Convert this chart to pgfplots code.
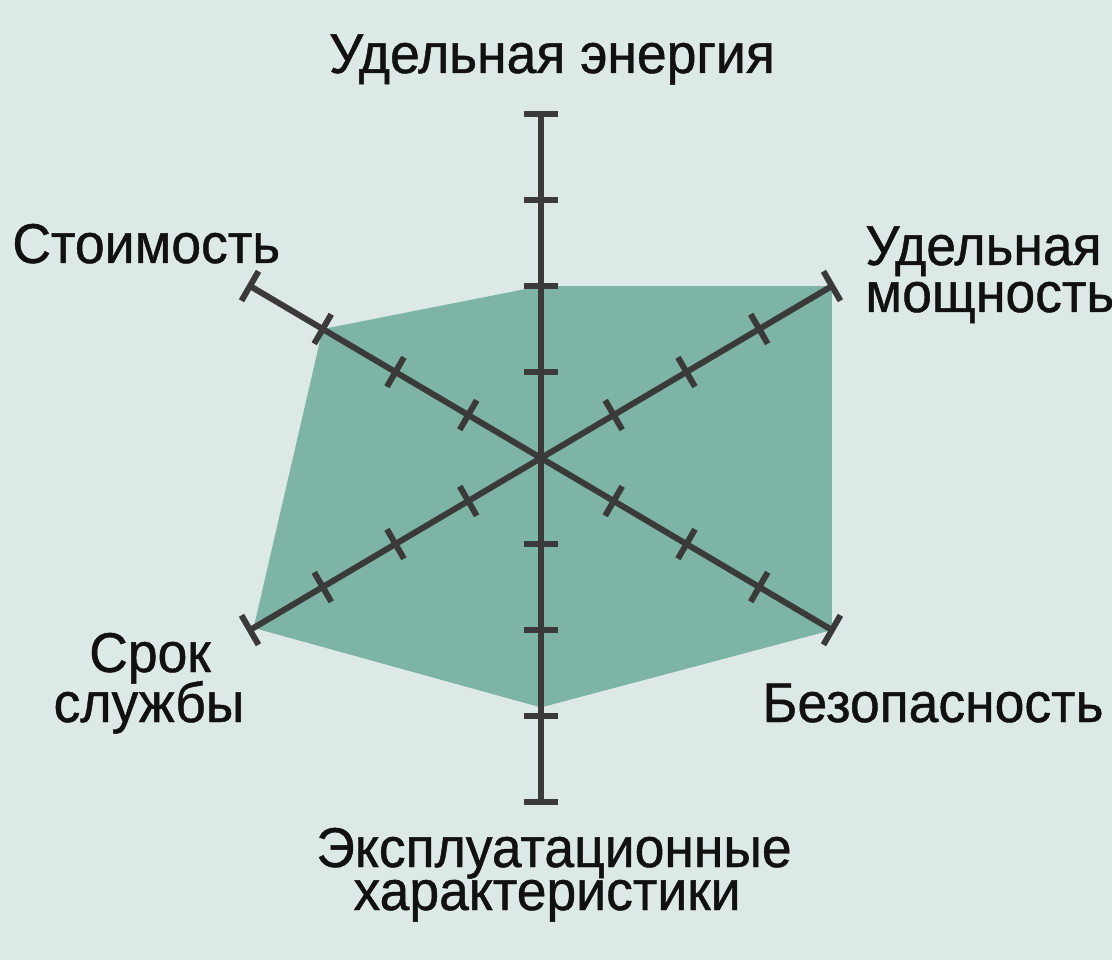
\documentclass[border=0pt]{standalone}
\usepackage{pgfplots}
\pgfplotsset{compat=1.18}
\usepackage{fontspec}
\setmainfont{Liberation Sans}[FakeStretch=0.955, FakeBold=0.8]
\definecolor{bgc}{RGB}{221,233,230}
\definecolor{fillc}{RGB}{126,180,165}
\definecolor{axc}{RGB}{58,58,58}
\definecolor{txt}{RGB}{17,17,17}

\begin{document}
\begin{tikzpicture}[x=0.5pt,y=0.5pt]
  \fill[bgc] (0,0) rectangle (1112,960);
  \begin{axis}[
      at={(0,0)}, anchor=south west,
      x=42pt, y=43pt,
      xmin=-6.440, xmax=6.798,
      ymin=-5.837, ymax=5.326,
      hide axis, clip=false,
    ]
    % scores, (angle, value)
    \addplot[fill=fillc, draw=none, data cs=polar] coordinates {
      (90,2) (30,4) (-30,4) (-90,2.9) (210,3.95) (150,3) (90,2)
    };
    % spokes
    \addplot[axc, line width=3pt, data cs=polar] coordinates {(90,4) (270,4)};
    \addplot[axc, line width=3pt, data cs=polar] coordinates {(30,4) (210,4)};
    \addplot[axc, line width=3pt, data cs=polar] coordinates {(150,4) (330,4)};
    % tick marks and end caps
    \addplot[only marks, mark=|, mark size=8.5pt, data cs=polar,
      mark options={rotate=90, axc, line width=3pt}] coordinates {
      (90,1) (90,2) (90,3) (90,4) (270,1) (270,2) (270,3) (270,4)};
    \addplot[only marks, mark=|, mark size=8.5pt, data cs=polar,
      mark options={rotate=30, axc, line width=3pt}] coordinates {
      (30,1) (30,2) (30,3) (30,4) (210,1) (210,2) (210,3) (210,4)};
    \addplot[only marks, mark=|, mark size=8.5pt, data cs=polar,
      mark options={rotate=150, axc, line width=3pt}] coordinates {
      (150,1) (150,2) (150,3) (150,4) (330,1) (330,2) (330,3) (330,4)};
  \end{axis}
  \begin{scope}[every node/.style={inner sep=0pt, text=txt, font=\fontsize{28}{30}\selectfont}]
    \node[anchor=base] at (552,887) {Удельная энергия};
    \node[anchor=base west] at (865,695) {Удельная};
    \node[anchor=base west] at (865,648) {мощность};
    \node[anchor=base west] at (12,697) {Стоимость};
    \node[anchor=base] at (150,288) {Срок};
    \node[anchor=base] at (149,238) {службы};
    \node[anchor=base west] at (762,238) {Безопасность};
    \node[anchor=base] at (554,93) {Эксплуатационные};
    \node[anchor=base] at (547,50) {характеристики};
  \end{scope}
  \pgfresetboundingbox
  \useasboundingbox (0,0) rectangle (1112,960);
\end{tikzpicture}
\end{document}
